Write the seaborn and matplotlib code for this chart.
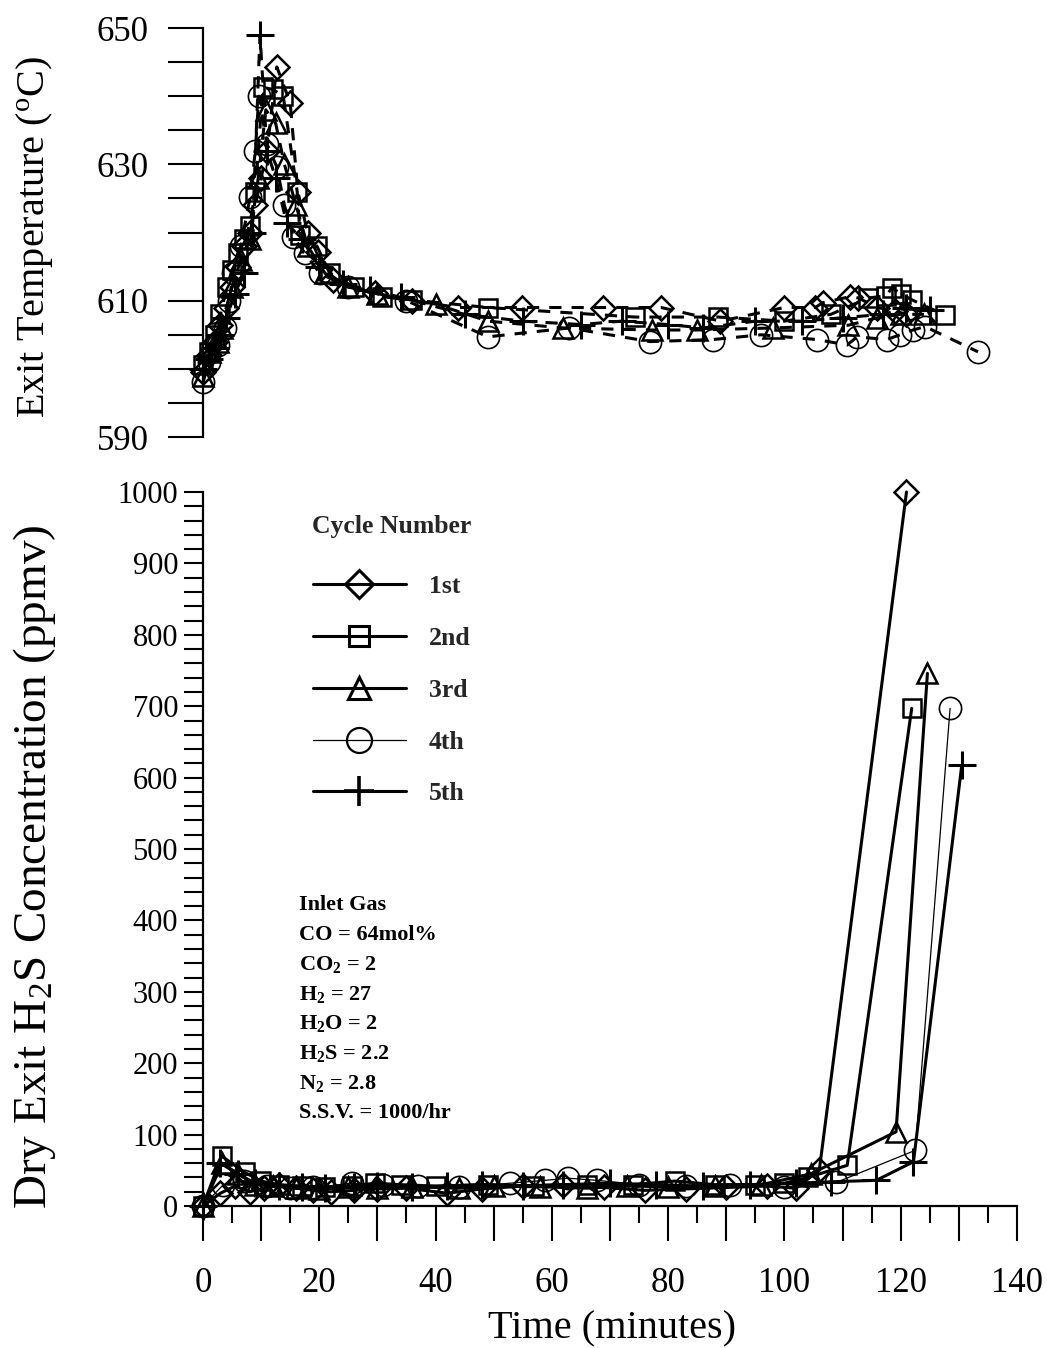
import matplotlib
matplotlib.use("Agg")
import matplotlib.pyplot as plt
from matplotlib.ticker import MultipleLocator, FixedLocator, FuncFormatter
from matplotlib.lines import Line2D
import pandas as pd
import seaborn as sns

# ---------------- data ----------------
cycles = ["1st", "2nd", "3rd", "4th", "5th"]

# Exit temperature (deg C) versus time (min), one pair of arrays per cycle
temp_t_1 = [0, 1, 2, 3, 4, 5, 6, 7, 8, 9, 10, 11, 12.7, 15, 16.3, 18, 19.8, 22.4, 29.6, 36,
            43.9, 54.9, 68.8, 78.8, 89, 100, 105.3, 106.6, 111.3, 112.7, 116, 119, 121]
temp_v_1 = [599.5, 602, 604, 606.5, 609, 612, 615, 618, 620, 624, 628, 632, 644.3, 639, 626, 620,
            617.2, 613, 611.1, 610, 609, 609, 609, 609, 607, 609, 609, 609.7, 610.6, 610.4, 609,
            608.5, 608]
temp_t_2 = [0, 1, 2, 3, 4.1, 5, 6, 7, 8, 9, 10.3, 12, 13.8, 16.2, 16.7, 19.6, 21.8, 26, 30.8, 36,
            49, 74.3, 88.6, 100, 108, 114.4, 117.5, 118.5, 120, 122, 127.6]
temp_v_2 = [600.5, 602.5, 605, 608, 612, 614.5, 617, 619, 621, 626, 641.3, 641, 640, 626, 619.6,
            618, 614, 612, 610.6, 610.1, 609, 607.6, 607.6, 607, 608, 610.4, 610.7, 611.9, 611,
            610.1, 607.9]
temp_t_3 = [0, 1.2, 2.5, 3.3, 5, 6.5, 8, 9.5, 10.8, 12.5, 14, 16, 18, 21, 25, 30, 40, 49, 62,
            77.2, 85, 98, 111, 116, 120, 124]
temp_v_3 = [599, 602.5, 604, 606, 612, 616, 619, 628, 638, 636, 630, 624, 618, 614, 612, 611,
            609.5, 607, 606, 605.7, 605.7, 606, 606.4, 607.5, 608, 608]
temp_t_4 = [0, 1, 2.5, 3.8, 4.5, 5.2, 6.5, 8.1, 9, 9.6, 11, 12.7, 14, 15.5, 17.5, 20.1, 25, 35,
            49, 63, 76.9, 87.7, 96, 105.6, 110.8, 112.5, 117.6, 119.9, 122.1, 124.2, 133.3]
temp_v_4 = [598, 601, 603.5, 606, 610, 614, 618, 625.2, 632, 640, 633, 629.6, 624, 619.4, 617,
            614, 612, 610, 604.7, 606, 604, 604.3, 605, 604.3, 603.5, 604.7, 604.3, 605, 605.7,
            606.2, 602.5]
temp_t_5 = [0, 1, 2, 3, 4, 5.5, 7, 8.5, 9.8, 11, 12.5, 14.4, 17, 20, 24, 28.7, 34, 45, 55, 65,
            72, 80, 86, 95, 103, 110, 117, 121, 125]
temp_v_5 = [600, 601.5, 603, 605, 607.5, 611, 614, 620, 649, 632, 628, 621.4, 619, 615, 612.5,
            611.6, 610.5, 608, 607, 606.5, 607, 606.5, 606, 607, 607, 607.5, 608, 609, 608.7]

# Dry exit H2S concentration (ppmv) versus time (min)
h2s_t_1 = [0, 3, 5.5, 8, 10.5, 13, 16, 19, 22, 26, 30, 35, 42, 48, 55, 62, 69, 76, 83, 90, 97,
           102, 106, 121]
h2s_v_1 = [0, 18, 28, 20, 25, 30, 25, 22, 20, 22, 24, 25, 18, 24, 28, 30, 26, 22, 24, 26, 28,
           25, 50, 1000]
h2s_t_2 = [0, 3.2, 7.2, 10, 13, 17, 21, 25.6, 29.6, 34, 40, 49, 57, 66, 74, 81.2, 88, 95, 100,
           104, 110.8, 121.9]
h2s_v_2 = [0, 70, 47, 35, 30, 28, 27, 28, 32, 30, 28, 30, 28, 30, 30, 35, 30, 30, 32, 40, 57,
           697]
h2s_t_3 = [0, 3.3, 6, 9, 12, 16, 20, 25, 30, 36, 44, 50, 58, 66, 73, 80, 88, 96, 104.5, 119.2,
           124.6]
h2s_v_3 = [0, 60, 45, 30, 28, 25, 24, 26, 25, 27, 25, 28, 27, 25, 28, 27, 28, 30, 45, 104, 746]
h2s_t_4 = [0, 3.5, 7, 11, 15, 19, 25.6, 31, 37, 44, 52.8, 58.8, 62.8, 67.8, 75, 83, 90.6, 100,
           108.9, 122.5, 128.5]
h2s_v_4 = [0, 30, 35, 28, 25, 26, 32, 30, 28, 26, 32, 36, 39, 36, 30, 28, 29, 27, 33, 78, 697]
h2s_t_5 = [0, 3, 6, 9, 13, 17, 21, 26, 30, 36, 42, 48, 55, 62, 70, 78, 86, 94, 102, 108, 115.8,
           122.2, 130.5]
h2s_v_5 = [0, 60, 45, 32, 28, 26, 25, 27, 28, 27, 28, 30, 28, 30, 32, 30, 28, 30, 32, 34, 36,
           62, 617]

inlet_gas = ["Inlet Gas", "CO = 64mol%", "CO$_2$ = 2", "H$_2$ = 27", "H$_2$O = 2",
             "H$_2$S = 2.2", "N$_2$ = 2.8", "S.S.V. = 1000/hr"]

temp_t = [temp_t_1, temp_t_2, temp_t_3, temp_t_4, temp_t_5]
temp_v = [temp_v_1, temp_v_2, temp_v_3, temp_v_4, temp_v_5]
h2s_t = [h2s_t_1, h2s_t_2, h2s_t_3, h2s_t_4, h2s_t_5]
h2s_v = [h2s_v_1, h2s_v_2, h2s_v_3, h2s_v_4, h2s_v_5]

temp_df = pd.concat([pd.DataFrame({"time": t, "temp": v, "cycle": c})
                     for t, v, c in zip(temp_t, temp_v, cycles)], ignore_index=True)
h2s_df = pd.concat([pd.DataFrame({"time": t, "h2s": v, "cycle": c})
                    for t, v, c in zip(h2s_t, h2s_v, cycles)], ignore_index=True)

# ---------------- style ----------------
sns.set_theme(style="ticks")
plt.rcParams["font.family"] = ["Liberation Serif", "DejaVu Serif"]
plt.rcParams["mathtext.fontset"] = "custom"
plt.rcParams["mathtext.rm"] = "Liberation Serif"
plt.rcParams["mathtext.it"] = "Liberation Serif:italic"
plt.rcParams["mathtext.bf"] = "Liberation Serif:bold"
plt.rcParams["mathtext.default"] = "regular"

markers = {"1st": "D", "2nd": "s", "3rd": "^", "4th": "o", "5th": "+"}
msizes = {"1st": 12, "2nd": 13, "3rd": 14, "4th": 16, "5th": 20}
lwidths = {"1st": 2.2, "2nd": 2.2, "3rd": 2.2, "4th": 0.9, "5th": 2.2}
medge = {"1st": 1.8, "2nd": 1.8, "3rd": 1.8, "4th": 1.2, "5th": 2.2}

fig = plt.figure(figsize=(10.47, 13.48), dpi=100)
ax_top = fig.add_axes([0.1939, 0.6758, 0.7774, 0.3034])
ax_bot = fig.add_axes([0.1939, 0.1053, 0.7774, 0.5297])

for c in cycles:
    sub = temp_df[temp_df["cycle"] == c]
    sns.lineplot(data=sub, x="time", y="temp", ax=ax_top, color="black",
                 estimator=None, sort=False, legend=False,
                 linestyle=(0, (4, 3.3)), linewidth=2.2,
                 marker=markers[c], markersize=msizes[c],
                 markerfacecolor="none", markeredgecolor="black",
                 markeredgewidth=medge[c], clip_on=False)
    sub = h2s_df[h2s_df["cycle"] == c]
    sns.lineplot(data=sub, x="time", y="h2s", ax=ax_bot, color="black",
                 estimator=None, sort=False, legend=False,
                 linewidth=lwidths[c],
                 marker=markers[c], markersize=msizes[c],
                 markerfacecolor="none", markeredgecolor="black",
                 markeredgewidth=medge[c], clip_on=False)

# ---------------- upper panel axes ----------------
ax_top.set_xlim(0, 140)
ax_top.set_ylim(590, 650)
for s in ["top", "right", "bottom"]:
    ax_top.spines[s].set_visible(False)
ax_top.spines["left"].set_linewidth(1.6)
ax_top.spines["left"].set_color("black")
ax_top.set_xticks([])
ax_top.set_xlabel("")
ax_top.yaxis.set_major_locator(FixedLocator([590, 610, 630, 650]))
ax_top.yaxis.set_minor_locator(MultipleLocator(5))
ax_top.tick_params(axis="y", which="both", direction="out", length=25, width=1.5,
                   color="black", labelsize=25, pad=14, labelcolor="black")
ax_top.set_ylabel("Exit Temperature ($^o$C)", fontsize=29, color="black")
ax_top.yaxis.set_label_coords(-0.182, 0.49)

# ---------------- lower panel axes ----------------
ax_bot.set_xlim(0, 140)
ax_bot.set_ylim(0, 1000)
for s in ["top", "right"]:
    ax_bot.spines[s].set_visible(False)
for s in ["left", "bottom"]:
    ax_bot.spines[s].set_linewidth(1.6)
    ax_bot.spines[s].set_color("black")
ax_bot.xaxis.set_major_locator(MultipleLocator(10))
ax_bot.xaxis.set_minor_locator(MultipleLocator(5))
ax_bot.xaxis.set_major_formatter(FuncFormatter(lambda v, p: f"{v:.0f}" if round(v) % 20 == 0 else ""))
ax_bot.yaxis.set_major_locator(MultipleLocator(100))
ax_bot.yaxis.set_minor_locator(MultipleLocator(20))
ax_bot.tick_params(axis="x", which="major", direction="out", length=25, width=1.5,
                   color="black", labelsize=25, pad=19, labelcolor="black")
ax_bot.tick_params(axis="x", which="minor", direction="out", length=12, width=1.5, color="black")
ax_bot.tick_params(axis="y", which="both", direction="out", length=14, width=1.5,
                   color="black", labelsize=22, pad=4, labelcolor="black")
ax_bot.set_xlabel("Time (minutes)", fontsize=29, color="black")
ax_bot.xaxis.set_label_coords(0.502, -0.146)
ax_bot.set_ylabel("Dry Exit H$_2$S Concentration (ppmv)", fontsize=34, color="black")
ax_bot.yaxis.set_label_coords(-0.178, 0.475)

# legend
handles = [Line2D([], [], color="black", linewidth=lwidths[c], marker=markers[c],
                  markersize=msizes[c] + 2, markerfacecolor="none",
                  markeredgecolor="black", markeredgewidth=medge[c] + 0.4)
           for c in cycles]
leg = ax_bot.legend(handles, cycles, loc="upper left", bbox_to_anchor=(0.134, 0.968),
                    frameon=False, borderaxespad=0, borderpad=0, handlelength=3.6,
                    handletextpad=0.9, labelspacing=1.12, title="Cycle Number",
                    prop={"weight": "bold", "size": 18.5},
                    title_fontproperties={"weight": "bold", "size": 18.5})
leg._legend_box.sep = 27

# inlet gas composition block
for i, line in enumerate(inlet_gas):
    ax_bot.text(0.118, 0.421 - i * 0.0415, line, transform=ax_bot.transAxes,
                fontsize=16, fontweight="bold", ha="left", va="center", color="black")

fig.savefig("out.png", dpi=100)
